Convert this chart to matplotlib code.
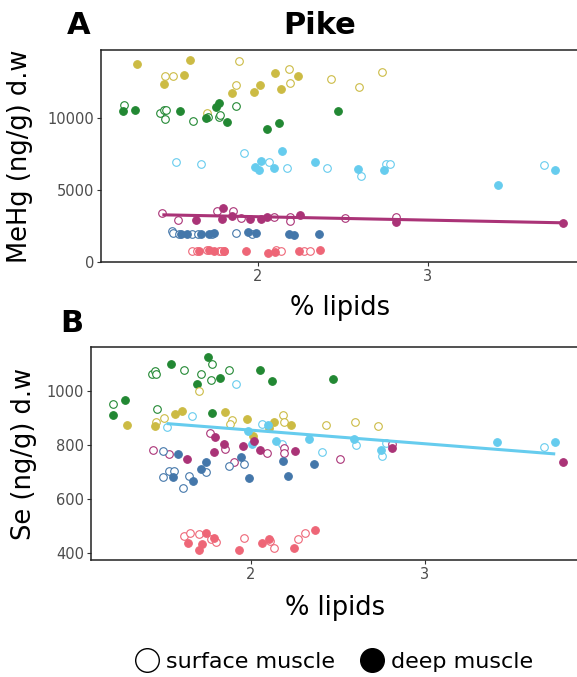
import numpy as np
import matplotlib
matplotlib.use("Agg")
import matplotlib.pyplot as plt
from matplotlib.lines import Line2D

colors = {
    "yellow": "#CCBB44",
    "green": "#228833",
    "cyan": "#66CCEE",
    "purple": "#AA3377",
    "blue": "#4477AA",
    "red": "#EE6677",
}

# Panel A: MeHg (ng/g d.w) vs % lipids; deep = 1 for deep muscle, 0 for surface
a_yellow_x = [1.291, 1.457, 1.502, 1.451, 1.565, 1.604, 1.892, 1.875, 1.849, 1.702,
              1.976, 2.016, 2.104, 2.186, 2.188, 2.135, 2.234, 2.432, 2.598, 2.732]
a_yellow_y = [13760, 12890, 12890, 12380, 12950, 13990, 13920, 12260, 11690, 10350,
              11800, 12310, 13140, 13390, 12420, 12030, 12890, 12700, 12120, 13160]
a_yellow_deep = [1, 0, 0, 1, 1, 1, 0, 0, 1, 0, 1, 1, 1, 0, 0, 1, 1, 0, 0, 0]

a_green_x = [1.206, 1.212, 1.276, 1.428, 1.451, 1.463, 1.457, 1.545, 1.618, 1.698,
             1.707, 1.753, 1.775, 1.771, 1.781, 1.822, 1.873, 2.053, 2.124, 2.471]
a_green_y = [10490, 10860, 10530, 10310, 10580, 10580, 9910, 10460, 9790, 10000,
             10050, 10760, 11000, 10070, 10170, 9720, 10830, 9200, 9660, 10490]
a_green_deep = [1, 0, 1, 0, 0, 0, 0, 1, 0, 1, 0, 1, 1, 0, 0, 1, 0, 1, 1, 1]

a_cyan_x = [1.518, 1.667, 1.918, 1.982, 2.008, 2.022, 2.065, 2.094, 2.141, 2.175,
            2.335, 2.408, 2.590, 2.606, 2.745, 2.753, 2.779, 3.412, 3.682, 3.747]
a_cyan_y = [6960, 6820, 7580, 6590, 6380, 7010, 6960, 6540, 7700, 6520,
            6960, 6500, 6470, 5990, 6360, 6800, 6800, 5330, 6710, 6380]
a_cyan_deep = [0, 0, 0, 1, 1, 1, 0, 1, 1, 0, 1, 0, 1, 0, 1, 0, 0, 1, 0, 1]

a_purple_x = [1.439, 1.532, 1.634, 1.763, 1.794, 1.853, 1.792, 1.849, 1.904, 1.953,
              2.020, 2.055, 2.096, 2.188, 2.192, 2.251, 2.516, 2.812, 2.814, 3.794]
a_purple_y = [3410, 2950, 2900, 3530, 3750, 3530, 3000, 3200, 3090, 3000,
              3000, 3150, 3130, 3130, 2840, 3290, 3060, 3110, 2810, 2720]
a_purple_deep = [0, 0, 1, 0, 1, 0, 1, 1, 0, 1, 1, 1, 0, 0, 0, 1, 0, 0, 1, 1]

a_blue_x = [1.496, 1.502, 1.535, 1.549, 1.581, 1.614, 1.647, 1.669, 1.714, 1.732,
            1.744, 1.873, 1.941, 1.967, 1.991, 2.186, 2.216, 2.359]
a_blue_y = [2165, 2050, 1940, 1960, 1940, 1960, 1940, 1980, 1960, 1960,
            2030, 2050, 2120, 1980, 2050, 1960, 1910, 1940]
a_blue_deep = [0, 0, 0, 1, 1, 0, 0, 1, 1, 0, 1, 0, 1, 0, 1, 1, 1, 1]

a_red_x = [1.614, 1.644, 1.653, 1.702, 1.712, 1.741, 1.771, 1.786, 1.800, 1.804,
           1.929, 2.063, 2.108, 2.100, 2.138, 2.245, 2.271, 2.310, 2.365]
a_red_y = [800, 800, 780, 870, 820, 810, 800, 780, 800, 800,
           800, 620, 870, 730, 800, 800, 800, 800, 870]
a_red_deep = [0, 0, 1, 0, 1, 1, 0, 0, 1, 0, 1, 1, 0, 1, 0, 1, 0, 0, 1]

# Panel B: Se (ng/g d.w) vs % lipids
b_green_x = [1.207, 1.203, 1.274, 1.427, 1.444, 1.454, 1.460, 1.541, 1.614, 1.709,
             1.691, 1.753, 1.774, 1.770, 1.820, 1.873, 1.774, 2.052, 2.122, 2.475]
b_green_y = [952, 910, 967, 1062, 1075, 1063, 933, 1100, 1079, 1063,
             1025, 1127, 1099, 1040, 1049, 1079, 919, 1079, 1036, 1044]
b_green_deep = [0, 1, 1, 0, 0, 0, 0, 1, 0, 0, 1, 1, 0, 0, 1, 0, 1, 1, 1, 1]

b_yellow_x = [1.286, 1.444, 1.452, 1.498, 1.560, 1.604, 1.703, 1.848, 1.892, 1.878,
              1.975, 2.013, 2.102, 2.135, 2.187, 2.189, 2.233, 2.434, 2.598, 2.733]
b_yellow_y = [874, 872, 884, 901, 915, 925, 1001, 921, 894, 878,
              895, 834, 864, 884, 910, 887, 875, 873, 884, 872]
b_yellow_deep = [1, 1, 0, 0, 1, 1, 0, 1, 0, 0, 1, 1, 1, 1, 0, 0, 1, 0, 0, 0]

b_cyan_x = [1.514, 1.662, 1.915, 1.983, 2.008, 2.064, 2.097, 2.143, 2.178, 2.336,
            2.409, 2.591, 2.606, 2.749, 2.755, 2.778, 3.415, 3.687, 3.753]
b_cyan_y = [868, 909, 1028, 853, 803, 879, 875, 814, 803, 824,
            773, 821, 801, 783, 761, 808, 813, 793, 810]
b_cyan_deep = [0, 0, 0, 1, 1, 0, 1, 1, 0, 1, 0, 1, 0, 1, 0, 0, 1, 0, 1]

b_purple_x = [1.434, 1.527, 1.629, 1.761, 1.792, 1.788, 1.845, 1.851, 1.903, 1.952,
              2.019, 2.054, 2.094, 2.191, 2.193, 2.253, 2.515, 2.812, 2.812, 3.800]
b_purple_y = [783, 767, 749, 844, 830, 773, 803, 786, 738, 797,
              816, 781, 770, 790, 770, 778, 749, 804, 788, 736]
b_purple_deep = [0, 0, 1, 0, 1, 1, 1, 0, 0, 1, 1, 1, 0, 0, 0, 1, 0, 0, 1, 1]

b_blue_x = [1.494, 1.579, 1.492, 1.527, 1.554, 1.550, 1.610, 1.645, 1.668, 1.710,
            1.738, 1.741, 1.871, 1.942, 1.961, 1.988, 2.183, 2.214, 2.361]
b_blue_y = [777, 768, 682, 704, 703, 681, 643, 686, 666, 712,
            738, 702, 724, 755, 730, 677, 742, 686, 729]
b_blue_deep = [0, 1, 0, 0, 0, 1, 0, 0, 1, 1, 1, 0, 0, 1, 0, 1, 1, 1, 1]

b_red_x = [1.614, 1.647, 1.639, 1.699, 1.701, 1.720, 1.743, 1.768, 1.786, 1.797,
           1.929, 1.959, 2.062, 2.104, 2.110, 2.133, 2.247, 2.268, 2.313, 2.367]
b_red_y = [464, 475, 439, 470, 413, 433, 475, 452, 457, 441,
           411, 455, 438, 453, 444, 420, 418, 452, 476, 485]
b_red_deep = [0, 0, 1, 0, 1, 1, 1, 0, 1, 0, 1, 0, 1, 1, 0, 0, 1, 0, 0, 1]

panel_a = {
    "yellow": (a_yellow_x, a_yellow_y, a_yellow_deep),
    "green": (a_green_x, a_green_y, a_green_deep),
    "cyan": (a_cyan_x, a_cyan_y, a_cyan_deep),
    "purple": (a_purple_x, a_purple_y, a_purple_deep),
    "blue": (a_blue_x, a_blue_y, a_blue_deep),
    "red": (a_red_x, a_red_y, a_red_deep),
}
panel_b = {
    "green": (b_green_x, b_green_y, b_green_deep),
    "yellow": (b_yellow_x, b_yellow_y, b_yellow_deep),
    "cyan": (b_cyan_x, b_cyan_y, b_cyan_deep),
    "purple": (b_purple_x, b_purple_y, b_purple_deep),
    "blue": (b_blue_x, b_blue_y, b_blue_deep),
    "red": (b_red_x, b_red_y, b_red_deep),
}

W, H = 577, 677
TICK_GREY = "#4D4D4D"


def draw_panel(ax, groups, fit_group, ylabel, yticks, ylim):
    for name, (xs, ys, deep) in groups.items():
        xs = np.array(xs)
        ys = np.array(ys)
        deep = np.array(deep, dtype=bool)
        ax.scatter(xs[~deep], ys[~deep], s=30, facecolor="white",
                   edgecolor=colors[name], linewidth=0.8, zorder=2)
        ax.scatter(xs[deep], ys[deep], s=30, facecolor=colors[name],
                   edgecolor=colors[name], linewidth=0.8, zorder=2)

    # linear fit over the range of the group
    fx, fy, _ = groups[fit_group]
    slope, icpt = np.polyfit(fx, fy, 1)
    lx = np.array([min(fx), max(fx)])
    ax.plot(lx, slope * lx + icpt, color=colors[fit_group], lw=2.2, zorder=3,
            solid_capstyle="butt")

    ax.set_xlim(1.078, 3.89)
    ax.set_ylim(*ylim)
    ax.set_xticks([2, 3])
    ax.set_yticks(yticks)
    ax.tick_params(axis="both", colors="#333333", labelcolor=TICK_GREY,
                   labelsize=10.5, length=3, width=0.8, pad=2)
    for sp in ax.spines.values():
        sp.set_color("#222222")
        sp.set_linewidth(1.1)
    ax.set_xlabel("% lipids", fontsize=18.5)
    ax.set_ylabel(ylabel, fontsize=18.5)


fig = plt.figure(figsize=(W / 100, H / 100), dpi=100)

ax1 = fig.add_axes([101 / W, (H - 262.3) / H, 478 / W, 212.3 / H])
draw_panel(ax1, panel_a, "purple", "MeHg (ng/g) d.w", [0, 5000, 10000], (0, 14700))
ax1.yaxis.set_label_coords(-0.143, 0.5)
ax1.xaxis.set_label_coords(0.5, -0.155)

ax2 = fig.add_axes([91 / W, (H - 560) / H, 488 / W, 212.7 / H])
draw_panel(ax2, panel_b, "cyan", "Se (ng/g) d.w", [400, 600, 800, 1000], (375, 1162))
ax2.yaxis.set_label_coords(-0.111, 0.5)
ax2.xaxis.set_label_coords(0.5, -0.165)

fig.text(79 / W, 1 - 25 / H, "A", fontsize=22, fontweight="bold", ha="center", va="center")
fig.text(72 / W, 1 - 324 / H, "B", fontsize=22, fontweight="bold", ha="center", va="center")
fig.text(320 / W, 1 - 25 / H, "Pike", fontsize=22, fontweight="bold", ha="center", va="center")

handles = [
    Line2D([], [], ls="", marker="o", ms=17, mfc="white", mec="black", mew=1.0),
    Line2D([], [], ls="", marker="o", ms=17, mfc="black", mec="black", mew=1.0),
]
fig.legend(handles, ["surface muscle", "deep muscle"], loc="center",
           bbox_to_anchor=(334 / W, 15 / H), ncol=2, frameon=False,
           fontsize=16, handletextpad=0.3, columnspacing=1.1, handlelength=1.1)

fig.savefig("out.png", dpi=100)
